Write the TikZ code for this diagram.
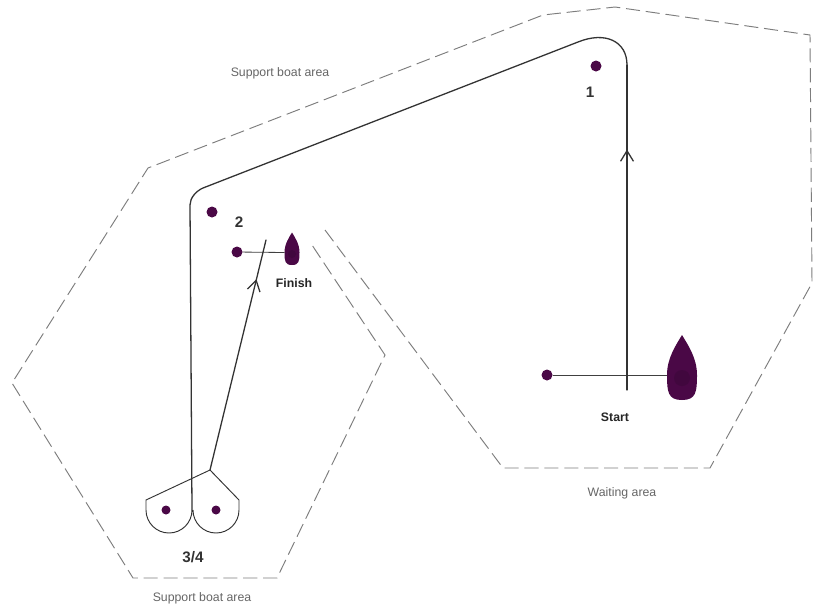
\documentclass[tikz,border=0pt]{standalone}
\usepackage{fontspec}
\setmainfont{Liberation Sans}
\definecolor{buoypurple}{RGB}{74,8,70}
\definecolor{zonegrey}{RGB}{125,125,125}
\usetikzlibrary{arrows.meta,decorations.markings}

\begin{document}
\begin{tikzpicture}[x=0.03cm,y=-0.03cm,
    zone/.style={draw=zonegrey,line width=0.8pt,dash pattern=on 12pt off 5pt},
    course/.style={draw=black!80,line width=1.1pt,line cap=round},
    gate/.style={draw=black!80,line width=0.8pt,line join=round},
    buoy/.style={circle,fill=buoypurple,inner sep=0pt,minimum size=0.33cm},
    smallbuoy/.style={buoy,minimum size=0.27cm},
    boatline/.style={draw=black!75,line width=0.7pt},
    zonelabel/.style={font=\fontsize{10.5}{12}\selectfont,text=black!60},
    linelabel/.style={font=\fontsize{10.5}{12}\selectfont\bfseries,text=black!85},
    marklabel/.style={font=\fontsize{13}{15}\selectfont\bfseries,text=black!80},
    chevron/.style={postaction={decorate},decoration={markings,
        mark=at position #1 with {\arrow{Straight Barb[length=9pt,width=11pt]}}}},
    boat/.pic={
        \fill[buoypurple] (0,-35) .. controls (6,-25) and (15,-12) .. (15,5)
            .. controls (15,22) and (14,30) .. (0,30)
            .. controls (-14,30) and (-15,22) .. (-15,5)
            .. controls (-15,-12) and (-6,-25) .. (0,-35) -- cycle;
        \fill[buoypurple!88!black] (0,8) circle[radius=8];
        \coordinate (-port) at (-15,5);
    }]
    \fill[white] (0,0) rectangle (816,608);
    \useasboundingbox (0,0) rectangle (816,608);

    % Racing area boundary
    \draw[zone] (325,230) -- (503,468) -- (710,468) -- (812,283) -- (810,35)
        -- (615,7) -- (543,15) -- (148,168) -- (12,383) -- (133,578)
        -- (277,578) -- (385,355) -- (310,242);

    % Marks
    \node[buoy] (m1) at (596,66) {};
    \node[buoy] (m2) at (212,212) {};
    \node[smallbuoy] (m3) at (166,510) {};
    \node[smallbuoy] (m4) at (216,510) {};
    \node[buoy] (pin) at (547,375) {};
    \node[buoy] (finpin) at (237,252) {};

    % Committee boats
    \pic (startboat) at (682,370) {boat};
    \pic[scale=0.5] (finboat) at (292,250) {boat};

    % Start and finish lines
    \draw[boatline] (pin) -- (startboat-port);
    \draw[boatline] (finpin) -- (finboat-port);

    % Course
    \coordinate (startcross) at (627,390);
    \coordinate (turn1a) at (627,65);
    \coordinate (turn1b) at (578,42);
    \coordinate (turn2a) at (203,188);
    \coordinate (turn2b) at (190,205);
    \coordinate (gatejoin) at (192,510);
    \coordinate (gatetip) at (210,470);
    \coordinate (finishend) at (266,240);
    \draw[course,chevron=0.74] (startcross) -- (turn1a);
    \draw[course] (turn1a) .. controls (627,41) and (605,31) .. (turn1b) -- (turn2a)
        .. controls (196,191) and (190,198) .. (turn2b) -- (gatejoin);
    \draw[gate] (gatejoin) arc[start angle=0,end angle=180,radius=23]
        -- (146,500) -- (gatetip) -- (239,500) -- (239,510)
        arc[start angle=0,end angle=180,radius=23];
    \draw[course,chevron=0.83] (gatetip) -- (finishend);

    % Labels
    \node[zonelabel] (topzone) at (280,73) {Support boat area};
    \node[zonelabel] (lowzone) at (202,598) {Support boat area};
    \node[zonelabel] (waitzone) at (622,493) {Waiting area};
    \node[linelabel] (startlabel) at (615,417) {Start};
    \node[linelabel] (finlabel) at (294,283) {Finish};
    \node[marklabel] (m1label) at (590,92) {1};
    \node[marklabel] (m2label) at (239,222) {2};
    \node[marklabel] (gatelabel) at (193,557) {3/4};
\end{tikzpicture}
\end{document}
